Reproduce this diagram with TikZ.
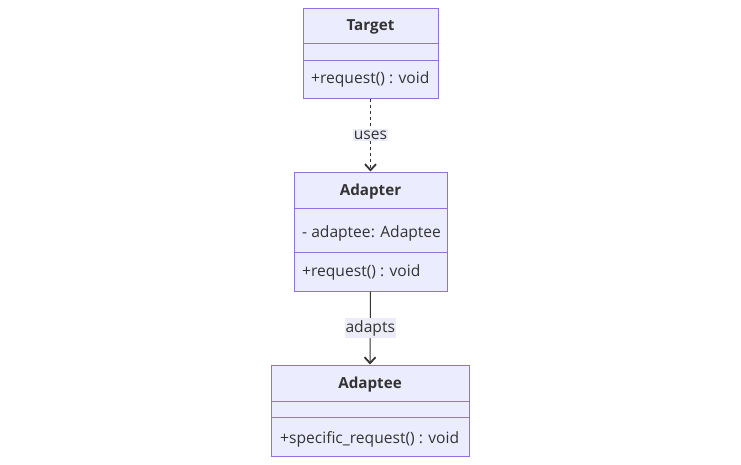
\documentclass[tikz,border=0pt]{standalone}
\usepackage{fontspec}
\setmainfont{Open Sans}
\usetikzlibrary{arrows.meta}
\definecolor{boxfill}{HTML}{ECECFF}
\definecolor{boxline}{HTML}{9370DB}
\definecolor{edgecol}{HTML}{333333}
\definecolor{txtcol}{HTML}{333333}
\definecolor{lblbg}{HTML}{ECECF8}
\begin{document}
\begin{tikzpicture}[x=1pt,y=-1pt,
  every node/.style={font=\fontsize{15.6}{18}\selectfont, text=txtcol, inner sep=0pt},
  classbox/.style={draw=boxline, fill=boxfill, line width=1pt, rectangle},
  divider/.style={draw=boxline, line width=1pt},
  title/.style={font=\fontsize{15.2}{18}\selectfont\bfseries},
  member/.style={anchor=west},
  edge/.style={draw=edgecol, line width=1pt, -{Straight Barb[length=6pt,width=11pt,line width=1.8pt]}},
  elabel/.style={fill=lblbg, inner xsep=1pt, inner ysep=2pt}
]
\useasboundingbox (0,0) rectangle (741,464);
% Target
\node[classbox, minimum width=135pt, minimum height=90pt] (target) at (370.5,53) {};
\node[title] (targetT) at (370.5,27) {Target};
\draw[divider] (303,43) -- (438,43);
\draw[divider] (303,60) -- (438,60);
\node[member] (targetM) at (311,79) {+request() : void};
% Adapter
\node[classbox, minimum width=153pt, minimum height=119pt] (adapter) at (370.5,231.5) {};
\node[title] (adapterT) at (370.5,192) {Adapter};
\draw[divider] (294,208) -- (447,208);
\draw[divider] (294,252) -- (447,252);
\node[member] (adapterA) at (302,233) {- adaptee: Adaptee};
\node[member] (adapterM) at (302,272) {+request() : void};
% Adaptee
\node[classbox, minimum width=198pt, minimum height=91pt] (adaptee) at (370,410.5) {};
\node[title] (adapteeT) at (370,385) {Adaptee};
\draw[divider] (271,401) -- (469,401);
\draw[divider] (271,417) -- (469,417);
\node[member] (adapteeM) at (280,439) {+specific\_request() : void};
% edges
\draw[edge, dashed, dash pattern=on 3pt off 3pt] (target.south) -- node[elabel, solid] (uses) {uses} (adapter.north);
\draw[edge] (adapter.south) -- node[elabel] (adapts) {adapts} (adaptee.north);
\end{tikzpicture}
\end{document}
